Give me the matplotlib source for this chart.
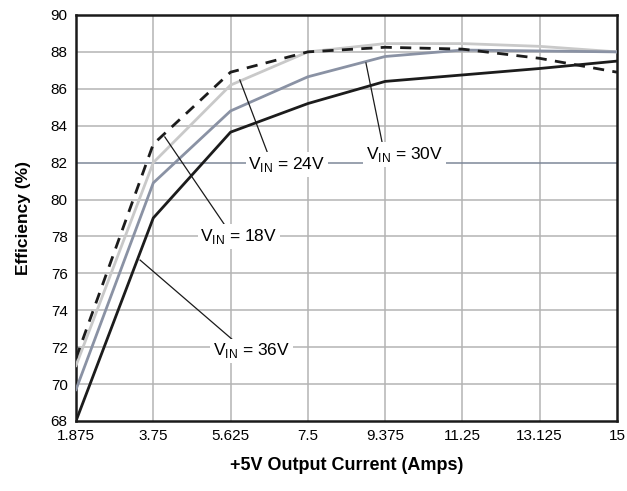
import matplotlib
matplotlib.use("Agg")
import matplotlib.pyplot as plt

plt.rcParams["font.family"] = ["Liberation Sans", "DejaVu Sans"]

# Output current steps (A) and measured efficiency (%) per input voltage
current = [1.875, 3.75, 5.625, 7.5, 9.375, 11.25, 13.125, 15]
eff_18v = [71.4, 83.0, 86.9, 88.0, 88.25, 88.15, 87.65, 86.9]
eff_24v = [71.0, 82.0, 86.2, 88.0, 88.45, 88.45, 88.3, 88.0]
eff_30v = [69.7, 80.9, 84.8, 86.65, 87.75, 88.1, 88.05, 88.0]
eff_36v = [68.0, 79.0, 83.65, 85.2, 86.4, 86.75, 87.1, 87.5]

x_ticks = current
x_tick_labels = ["1.875", "3.75", "5.625", "7.5", "9.375", "11.25", "13.125", "15"]
y_ticks = list(range(68, 91, 2))

fig = plt.figure(figsize=(6.27, 4.91), dpi=100)
ax = fig.add_axes([0.1212, 0.1426, 0.8628, 0.8269])

ax.set_xlim(1.875, 15)
ax.set_ylim(68, 90)
ax.set_xticks(x_ticks)
ax.set_xticklabels(x_tick_labels)
ax.set_yticks(y_ticks)
ax.tick_params(length=0, labelsize=11, pad=6)

# grid, with the 82 % line drawn darker
for x in x_ticks[1:-1]:
    ax.axvline(x, color="#b4b4b4", lw=1.1, zorder=1)
for y in y_ticks[1:-1]:
    c = "#7d8799" if y == 82 else "#b4b4b4"
    ax.axhline(y, color=c, lw=1.1, zorder=1)

ax.plot(current, eff_36v, color="#1c1c1c", lw=2.0, zorder=5)
ax.plot(current, eff_30v, color="#8a92a4", lw=2.0, zorder=4)
ax.plot(current, eff_24v, color="#c9c9c9", lw=2.0, zorder=3)
ax.plot(current, eff_18v, color="#1c1c1c", lw=2.0, ls=(0, (4, 3)), zorder=6)

for s in ax.spines.values():
    s.set_linewidth(1.8)
    s.set_color("#1a1a1a")

# leader lines
leaders = [
    ((4.03, 83.39), (5.49, 78.6)),
    ((5.85, 86.48), (6.51, 82.6)),
    ((8.91, 87.40), (9.32, 82.9)),
    ((3.43, 76.72), (5.78, 72.2)),
]
for (x0, y0), (x1, y1) in leaders:
    ax.plot([x0, x1], [y0, y1], color="#1a1a1a", lw=0.9, zorder=7)

labels = [
    (5.83, 78.0, "18V"),
    (6.99, 81.9, "24V"),
    (9.85, 82.45, "30V"),
    (6.14, 71.8, "36V"),
]
for x, y, v in labels:
    ax.text(x, y, r"V$_{\mathregular{IN}}$ = " + v, ha="center", va="center",
            fontsize=12.5, zorder=8,
            bbox=dict(facecolor="white", edgecolor="none", pad=2))

ax.set_xlabel("+5V Output Current (Amps)", fontsize=13, fontweight="bold", labelpad=10)
ax.set_ylabel("Efficiency (%)", fontsize=12.5, fontweight="bold", labelpad=14)

fig.savefig("out.png", dpi=100)
